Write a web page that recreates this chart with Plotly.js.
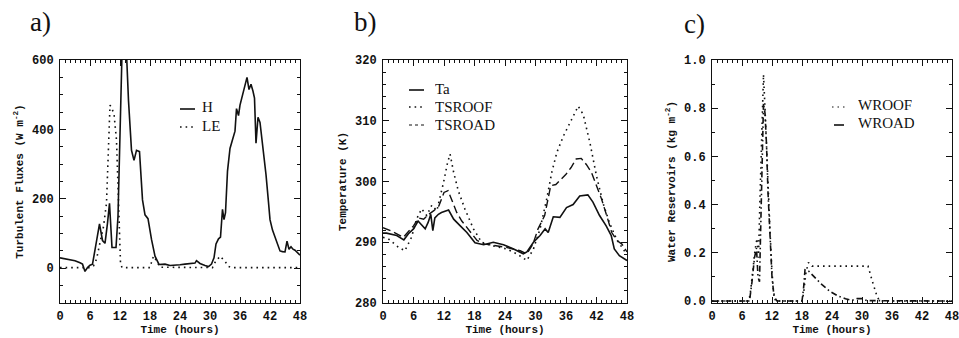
<!DOCTYPE html>
<html>
<head>
<meta charset="utf-8">
<script src="https://cdn.plot.ly/plotly-3.0.1.min.js"></script>
<style>html,body{margin:0;padding:0;background:#fff;}#chart{width:959px;height:338px;}</style>
</head>
<body>
<div id="chart"></div>
<script>
// ---------- data ----------
const xTickVals = [0, 6, 12, 18, 24, 30, 36, 42, 48];

// panel a: turbulent fluxes (W m-2)
const hourH = [0,1,2,3,4,4.5,5,5.5,6,6.5,7,7.5,7.9,8.5,9,9.5,9.9,10.4,10.8,11.2,11.6,12,12.4,12.8,13.3,13.7,14.3,14.8,15.3,15.9,16.5,17,17.6,18.3,19,19.8,21,22,23,24,25,26,27,27.3,28,29,29.7,30.3,30.8,31.2,31.7,32.1,32.5,32.8,33.1,33.5,34,34.5,35,35.3,35.7,36,36.5,37,37.4,37.8,38.2,38.6,38.9,39.2,39.6,40,40.3,40.7,41.2,41.7,42,42.5,43,43.5,44,44.5,45,45.4,45.8,46.2,46.6,47,47.5,48];
const fluxH = [30,28,26,22,16,12,-9,2,9,12,53,100,128,80,72,130,187,60,60,60,150,370,620,630,620,483,340,311,340,336,197,154,143,83,35,11,12,8,8,10,12,14,15,22,14,8,5,12,30,70,85,90,170,140,160,280,345,370,395,460,440,470,500,530,550,515,530,510,490,360,435,420,380,345,270,190,140,110,90,75,50,48,47,78,55,62,55,52,45,38];
const hourLE = [0,6,6.7,7.3,8,8.7,9.3,9.7,10,10.3,10.8,11.3,11.8,12.1,12.4,18,18.3,18.7,19.3,20,30.5,31,32,33,33.7,34.3,48];
const fluxLE = [2,2,7,26,74,120,188,340,470,463,445,369,100,15,2,2,17,35,22,3,2,17,35,20,5,2,2];

// panel b: temperatures (K)
const hourTa = [0,0.7,2.7,4.1,5,6,6.9,7.6,8.3,8.9,9.4,9.8,10.2,10.9,11.5,12.9,13.9,15.2,16.5,18.1,19.8,21.7,23.7,25.7,27.6,28.3,29.6,30.9,31.9,32.5,33.5,34.8,36.1,37.4,38.7,40.3,41.3,42.6,43.9,44.9,45.5,46.5,47.5,48];
const tempTa = [291.5,291.5,291.1,290.4,291.4,292.2,293.5,292.8,292.2,293.3,294.6,291.9,294,294.6,294.9,295.3,293.8,292.7,291.6,289.9,289.6,290,289.6,288.9,288.1,288.4,290,291.1,292.2,291.6,294.2,294.1,295.7,296.2,297.6,297.8,296.6,294.4,292.7,291.1,288.9,287.8,287.3,287];
const hourRoof = [0,1,3,4.3,5.6,6.6,7.6,8.6,9.6,10.6,11.9,12.7,13.2,13.9,14.8,16.1,17.8,19.4,21.7,24.3,26.3,28.3,29.6,30.9,32.2,33.2,34.2,35.5,37.1,38.4,39.4,40.7,42,43.3,44.6,45.9,47.2,48];
const tempRoof = [290.8,290.6,289.2,288.6,290.8,293.8,295.5,294.4,296.1,295.2,299.8,303.1,304.5,301.5,298.5,295.5,292.2,290,289.4,288.9,288.1,287,288.9,292.2,297.1,301.5,304.8,307.5,310.2,312.4,311,306.4,300.9,296.4,293.1,290.6,288.9,288];
const hourRoad = [0,1.5,4,6,7,8,9,10,11,12,12.8,13.5,14.5,15.5,17,18.5,20,24,27,28.3,29.5,30.5,31.8,33,34,35,36,37,38,39,40,41,42,43,44,45,46,47,48];
const tempRoad = [292.4,291.9,290.8,292.7,294,293.8,294.6,295.2,296,298.2,298.5,297.1,294.9,293.5,291.9,290.3,289.7,289.2,288.6,288.1,289.7,292.2,294.4,299.3,299.5,300.4,301.2,302.3,303.7,303.8,302.8,301.5,299.3,297.1,294.4,291.6,290.3,289.7,288.4];

// panel c: water reservoirs (kg m-2)
const hourWRoof = [0,7,7.6,8.2,8.6,9,9.3,9.6,10,10.3,10.6,10.9,11.3,11.6,12,12.3,12.7,18,18.3,18.8,19.3,20,25,31.2,32.1,33,33.5,48];
const waterRoof = [0,0,0.02,0.15,0.21,0.26,0.18,0.43,0.75,0.94,0.8,0.63,0.42,0.29,0.12,0.04,0,0,0.03,0.12,0.16,0.145,0.145,0.145,0.08,0.02,0,0];
const hourWRoad = [0,7.5,8,8.5,8.9,9.2,9.5,9.8,10.1,10.3,10.6,10.9,11.2,11.6,12,12.4,13,18,18.3,18.6,19.3,20.7,22,23.6,25.3,26.7,28,29,30,31,48];
const waterRoad = [0,0,0.08,0.18,0.22,0.1,0.08,0.4,0.7,0.82,0.78,0.65,0.45,0.25,0.1,0.02,0,0,0.05,0.13,0.125,0.095,0.068,0.04,0.02,0.01,0.003,0.01,0.01,0.002,0];

// ---------- layout helpers ----------
const W = 959, H = 338;
const px = x => x / W;
const py = y => 1 - y / H;
const INK = '#111';
const tickFont = {family: 'Liberation Mono, DejaVu Sans Mono, monospace', size: 12, color: INK, weight: 'bold'};
const titleFont = {family: 'Liberation Mono, DejaVu Sans Mono, monospace', size: 11, color: INK, weight: 'bold'};
const legFont = {family: 'Liberation Serif, serif', size: 15, color: INK};
const panelFont = {family: 'Liberation Serif, serif', size: 27, color: INK};
const yDom = [py(303), py(60)];

function xAxis(l, r, anchor) {
  return {
    domain: [px(l), px(r)], anchor: anchor, range: [0, 48],
    tickvals: xTickVals, ticktext: xTickVals.map(String),
    showline: true, linecolor: INK, linewidth: 1, mirror: 'ticks',
    ticks: 'inside', ticklen: 6, tickcolor: INK, tickwidth: 1,
    minor: {ticks: 'inside', dtick: 1, ticklen: 3, tickcolor: INK},
    showgrid: false, zeroline: false, tickfont: tickFont, ticklabelstandoff: 2,
    ticklabeloverflow: 'allow',
    title: {text: 'Time (hours)', font: titleFont, standoff: 0},
    automargin: false, fixedrange: true
  };
}
function yAxis(anchor, range, tickvals, fmt, minorD, title, standoff) {
  return {
    domain: yDom, anchor: anchor, range: range, tickvals: tickvals,
    ticktext: tickvals.map(v => fmt(v)),
    showline: true, linecolor: INK, linewidth: 1, mirror: 'ticks',
    ticks: 'inside', ticklen: 6, tickcolor: INK, tickwidth: 1,
    minor: {ticks: 'inside', dtick: minorD, ticklen: 3, tickcolor: INK},
    showgrid: false, zeroline: false, tickfont: tickFont, ticklabelstandoff: 3,
    ticklabeloverflow: 'allow',
    title: {text: title, font: titleFont, standoff: standoff},
    automargin: false, fixedrange: true
  };
}

const solid = {color: INK, width: 1.6};
const dotted = {color: INK, width: 1.6, dash: '1.6px,4px'};
const dashed = {color: INK, width: 1.4, dash: '8px,4px'};
const dashed2 = {color: INK, width: 1.6, dash: '6px,3px,1.5px,3px'};

const traces = [
  {x: hourH, y: fluxH, name: 'H', mode: 'lines', line: solid, xaxis: 'x', yaxis: 'y'},
  {x: hourLE, y: fluxLE, name: 'LE', mode: 'lines', line: dotted, xaxis: 'x', yaxis: 'y'},
  {x: hourTa, y: tempTa, name: 'Ta', mode: 'lines', line: solid, xaxis: 'x2', yaxis: 'y2'},
  {x: hourRoof, y: tempRoof, name: 'TSROOF', mode: 'lines', line: dotted, xaxis: 'x2', yaxis: 'y2'},
  {x: hourRoad, y: tempRoad, name: 'TSROAD', mode: 'lines', line: dashed, xaxis: 'x2', yaxis: 'y2'},
  {x: hourWRoof, y: waterRoof, name: 'WROOF', mode: 'lines', line: dotted, xaxis: 'x3', yaxis: 'y3'},
  {x: hourWRoad, y: waterRoad, name: 'WROAD', mode: 'lines', line: dashed2, xaxis: 'x3', yaxis: 'y3'}
];

// legend keys (drawn as annotations + short line samples)
const legendItems = [
  {text: 'H', lx: [180, 195], ly: 109, tx: 201, ty: 107, line: solid},
  {text: 'LE', lx: [180, 195], ly: 127, tx: 201, ty: 125, line: dotted},
  {text: 'Ta', lx: [409, 424], ly: 90, tx: 434, ty: 88, line: solid},
  {text: 'TSROOF', lx: [409, 424], ly: 107, tx: 434, ty: 106, line: dotted},
  {text: 'TSROAD', lx: [409, 424], ly: 125, tx: 434, ty: 124, line: {color: INK, width: 1, dash: '3px,3px'}},
  {text: 'WROOF', lx: [832, 848], ly: 107, tx: 857, ty: 105, line: {color: INK, width: 1.2, dash: '1.5px,4px'}},
  {text: 'WROAD', lx: [834, 844], ly: 125, tx: 857, ty: 123, line: solid}
];

const annotations = [
  {text: 'a)', x: px(28), y: py(22), xref: 'paper', yref: 'paper', xanchor: 'left', yanchor: 'middle', showarrow: false, font: panelFont},
  {text: 'b)', x: px(352), y: py(22), xref: 'paper', yref: 'paper', xanchor: 'left', yanchor: 'middle', showarrow: false, font: panelFont},
  {text: 'c)', x: px(682), y: py(24), xref: 'paper', yref: 'paper', xanchor: 'left', yanchor: 'middle', showarrow: false, font: panelFont}
];
const shapes = [];
legendItems.forEach(it => {
  annotations.push({text: it.text, x: px(it.tx), y: py(it.ty), xref: 'paper', yref: 'paper',
    xanchor: 'left', yanchor: 'middle', showarrow: false, font: legFont,
    height: 15, valign: 'middle', borderpad: 0});
  shapes.push({type: 'line', xref: 'paper', yref: 'paper', x0: px(it.lx[0]), x1: px(it.lx[1]),
    y0: py(it.ly), y1: py(it.ly), line: it.line});
});

const layout = {
  width: W, height: H, margin: {l: 0, r: 0, t: 0, b: 0},
  paper_bgcolor: '#fff', plot_bgcolor: '#fff', showlegend: false,
  font: {family: 'Liberation Mono, monospace', color: INK},
  xaxis: xAxis(60, 300, 'y'),
  yaxis: yAxis('x', [-100, 600], [0, 200, 400, 600], v => String(v), 50, 'Turbulent Fluxes (W m<sup>-2</sup>)', 6),
  xaxis2: xAxis(383, 627, 'y2'),
  yaxis2: yAxis('x2', [280, 320], [280, 290, 300, 310, 320], v => String(v), 2, 'Temperature (K)', 6),
  xaxis3: xAxis(712, 952, 'y3'),
  yaxis3: yAxis('x3', [-0.008, 1.0], [0, 0.2, 0.4, 0.6, 0.8, 1.0], v => v.toFixed(1), 0.1, 'Water Reservoirs (kg m<sup>-2</sup>)', 6),
  annotations: annotations, shapes: shapes
};

Plotly.newPlot('chart', traces, layout, {staticPlot: true, displayModeBar: false});
</script>
</body>
</html>
